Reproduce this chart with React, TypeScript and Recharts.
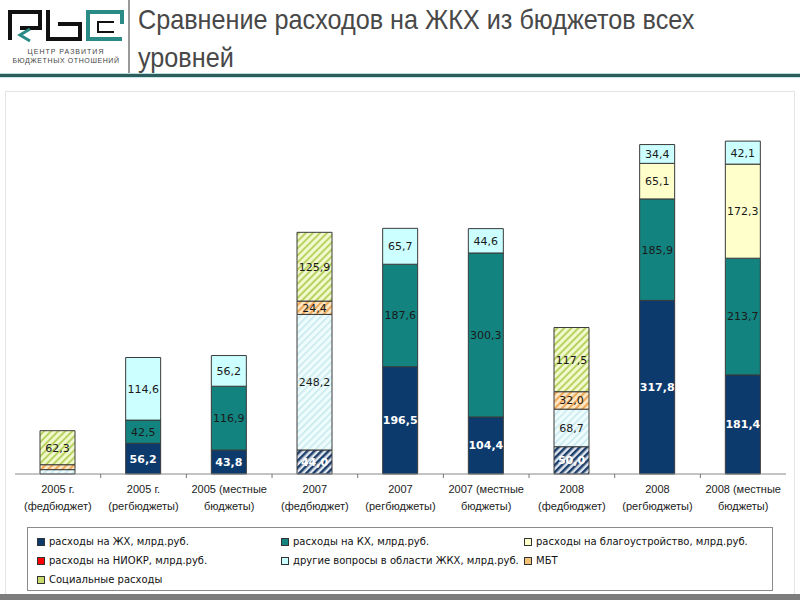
import React from "react";
import { BarChart, Bar, XAxis, YAxis, Cell, LabelList } from "recharts";

// categories (two-line labels)
const categories = [
  "2005 г.|(федбюджет)",
  "2005 г.|(регбюджеты)",
  "2005 (местные|бюджеты)",
  "2007|(федбюджет)",
  "2007|(регбюджеты)",
  "2007 (местные|бюджеты)",
  "2008|(федбюджет)",
  "2008|(регбюджеты)",
  "2008 (местные|бюджеты)",
];
const isFed = [true, false, false, true, false, false, true, false, false];

// values, млрд руб.
const zhkh = [null, 56.2, 43.8, 44, 196.5, 104.4, 50, 317.8, 181.4];
const niokr = [null, null, null, null, null, null, null, null, null];
const kh = [null, 42.5, 116.9, null, 187.6, 300.3, null, 185.9, 213.7];
const blag = [null, null, null, null, null, null, null, 65.1, 172.3];
const other = [8, 114.6, 56.2, 248.2, 65.7, 44.6, 68.7, 34.4, 42.1];
const mbt = [9, null, null, 24.4, null, null, 32.0, null, null];
const social = [62.3, null, null, 125.9, null, null, 117.5, null, null];

const data = categories.map((c, i) => ({
  name: c,
  zhkh: zhkh[i],
  niokr: niokr[i],
  kh: kh[i],
  blag: blag[i],
  other: other[i],
  mbt: mbt[i],
  social: social[i],
}));

const C_ZH = "#0c3a6c";
const C_KH = "#13837f";
const C_BLAG = "#ffffcc";
const C_OTHER = "#ccffff";
const C_NIOKR = "#ff0000";
const STROKE = "#3a3a3a";

const fmt = (v: any) => (v == null || v < 20 ? "" : String(v.toFixed(1)).replace(".", ","));

const Tick = (props: any) => {
  const { x, y, payload, index } = props;
  const [l1, l2] = String(payload.value).split("|");
  return (
    <g>
      {index > 0 && <line x1={x - 42.8} x2={x - 42.8} y1={y - 8} y2={y - 4} stroke="#777" />}
      <text x={x} y={y + 11} textAnchor="middle" fontSize={11} fill="#222" fontFamily="Liberation Sans, Arial, sans-serif">
        {l1}
      </text>
      <text x={x} y={y + 28} textAnchor="middle" fontSize={11} fill="#222" fontFamily="Liberation Sans, Arial, sans-serif">
        {l2}
      </text>
    </g>
  );
};

const labelStyle = { fontSize: 11, fontFamily: "DejaVu Sans, Verdana, sans-serif" };

const legendItems = [
  { text: "расходы на ЖХ, млрд.руб.", fill: C_ZH, col: 0, row: 0 },
  { text: "расходы на КХ, млрд.руб.", fill: C_KH, col: 1, row: 0 },
  { text: "расходы на благоустройство, млрд.руб.", fill: C_BLAG, col: 2, row: 0 },
  { text: "расходы на НИОКР, млрд.руб.", fill: C_NIOKR, col: 0, row: 1 },
  { text: "другие вопросы в области ЖКХ, млрд.руб.", fill: C_OTHER, col: 1, row: 1 },
  { text: "МБТ", fill: "#f5c27a", col: 2, row: 1 },
  { text: "Социальные расходы", fill: "#c8dc6e", col: 0, row: 2 },
];
const colX = [36, 280, 523];

export default function App() {
  return (
    <div style={{ position: "absolute", left: 0, top: 0, width: 800, height: 600, background: "#fff", overflow: "hidden" }}>
      {/* logo */}
      <svg width={126} height={72} style={{ position: "absolute", left: 2, top: 2 }}>
        <path d="M8,38 V10 H38 V26 H18" fill="none" stroke="#111" strokeWidth={4} />
        <path d="M28,27 L18,33 L28,39" fill="none" stroke="#2a8a86" strokeWidth={3} />
        <path d="M46,8 V37 H78 V22 H56" fill="none" stroke="#111" strokeWidth={4} />
        <path d="M120,22 V10 H86 V37 H120" fill="none" stroke="#2a8a86" strokeWidth={4} />
        <path d="M112,30 H96 V20 H112" fill="none" stroke="#111" strokeWidth={2} />
        <text x={64} y={52} textAnchor="middle" fontSize={7} fill="#444" letterSpacing={1} fontFamily="Liberation Sans, sans-serif">
          ЦЕНТР РАЗВИТИЯ
        </text>
        <text x={64} y={61} textAnchor="middle" fontSize={7} fill="#444" letterSpacing={0.6} fontFamily="Liberation Sans, sans-serif">
          БЮДЖЕТНЫХ ОТНОШЕНИЙ
        </text>
      </svg>
      <div style={{ position: "absolute", left: 128, top: 0, width: 2, height: 73, background: "#9a9a9a" }} />
      <div
        style={{
          position: "absolute",
          left: 138,
          top: 1,
          width: 700,
          fontFamily: "Liberation Sans, Arial, sans-serif",
          fontSize: 28,
          lineHeight: "38px",
          color: "#484848",
          transform: "scaleX(0.9)",
          transformOrigin: "0 0",
        }}
      >
        Сравнение расходов на ЖКХ из бюджетов всех
        <br />
        уровней
      </div>
      <div style={{ position: "absolute", left: 0, top: 73, width: 800, height: 1, background: "#b9dcdc" }} />
      <div style={{ position: "absolute", left: 0, top: 74, width: 800, height: 3, background: "#2c5e5e" }} />
      <div style={{ position: "absolute", left: 0, top: 77, width: 800, height: 1, background: "#c9e6e6" }} />

      {/* chart frame */}
      <div style={{ position: "absolute", left: 5, top: 91, width: 788, height: 502, border: "1px solid #e4e4e4" }} />
      <div style={{ position: "absolute", left: 0, top: 594, width: 800, height: 6, background: "#7d7d7d" }} />

      <div style={{ position: "absolute", left: 0, top: 0 }}>
        <BarChart width={800} height={600} data={data} margin={{ top: 119, right: 14, bottom: 96, left: 15 }} barSize={35}>
          <defs>
            <pattern id="hBlue" width={5} height={5} patternUnits="userSpaceOnUse" patternTransform="rotate(45)">
              <rect width={5} height={5} fill="#dfe6ef" />
              <rect width={2.5} height={5} fill="#1d3f6a" />
            </pattern>
            <pattern id="hCyan" width={5} height={5} patternUnits="userSpaceOnUse" patternTransform="rotate(45)">
              <rect width={5} height={5} fill="#eefcfd" />
              <rect width={1.5} height={5} fill="#c6e8ee" />
            </pattern>
            <pattern id="hOrange" width={5} height={5} patternUnits="userSpaceOnUse" patternTransform="rotate(45)">
              <rect width={5} height={5} fill="#fde6c2" />
              <rect width={2} height={5} fill="#eea85a" />
            </pattern>
            <pattern id="hGreen" width={5} height={5} patternUnits="userSpaceOnUse" patternTransform="rotate(45)">
              <rect width={5} height={5} fill="#f3f9cf" />
              <rect width={2} height={5} fill="#b9d363" />
            </pattern>
          </defs>
          <XAxis dataKey="name" interval={0} tick={<Tick />} tickLine={false} axisLine={{ stroke: "#888" }} height={30} />
          <YAxis hide domain={[0, 650]} />
          <Bar dataKey="zhkh" stackId="a" stroke={STROKE} strokeWidth={1} isAnimationActive={false}>
            {data.map((d, i) => (
              <Cell key={i} fill={isFed[i] ? "url(#hBlue)" : C_ZH} />
            ))}
            <LabelList dataKey="zhkh" position="center" formatter={fmt} style={{ ...labelStyle, fill: "#fff", fontWeight: 600 }} />
          </Bar>
          <Bar dataKey="niokr" stackId="a" fill={C_NIOKR} stroke={STROKE} isAnimationActive={false} />
          <Bar dataKey="kh" stackId="a" fill={C_KH} stroke={STROKE} isAnimationActive={false}>
            <LabelList dataKey="kh" position="center" formatter={fmt} style={{ ...labelStyle, fill: "#1a1a1a" }} />
          </Bar>
          <Bar dataKey="blag" stackId="a" fill={C_BLAG} stroke={STROKE} isAnimationActive={false}>
            <LabelList dataKey="blag" position="center" formatter={fmt} style={{ ...labelStyle, fill: "#1a1a1a" }} />
          </Bar>
          <Bar dataKey="other" stackId="a" stroke={STROKE} isAnimationActive={false}>
            {data.map((d, i) => (
              <Cell key={i} fill={isFed[i] ? "url(#hCyan)" : C_OTHER} />
            ))}
            <LabelList dataKey="other" position="center" formatter={fmt} style={{ ...labelStyle, fill: "#1a1a1a" }} />
          </Bar>
          <Bar dataKey="mbt" stackId="a" fill="url(#hOrange)" stroke={STROKE} isAnimationActive={false}>
            <LabelList dataKey="mbt" position="center" formatter={fmt} style={{ ...labelStyle, fill: "#1a1a1a" }} />
          </Bar>
          <Bar dataKey="social" stackId="a" fill="url(#hGreen)" stroke={STROKE} isAnimationActive={false}>
            <LabelList dataKey="social" position="center" formatter={fmt} style={{ ...labelStyle, fill: "#1a1a1a" }} />
          </Bar>
        </BarChart>
      </div>

      {/* legend */}
      <div style={{ position: "absolute", left: 27, top: 527, width: 744, height: 62, border: "1px solid #8a8a8a", background: "#fff" }}>
        {legendItems.map((it, i) => (
          <div
            key={i}
            style={{
              position: "absolute",
              left: colX[it.col] - 27,
              top: 8 + it.row * 19,
              display: "flex",
              alignItems: "center",
              fontFamily: "DejaVu Sans, Verdana, sans-serif",
              fontSize: 10,
              color: "#111",
              whiteSpace: "nowrap",
            }}
          >
            <span style={{ display: "inline-block", width: 6, height: 6, background: it.fill, border: "1px solid #333", marginRight: 4 }} />
            {it.text}
          </div>
        ))}
      </div>
    </div>
  );
}
